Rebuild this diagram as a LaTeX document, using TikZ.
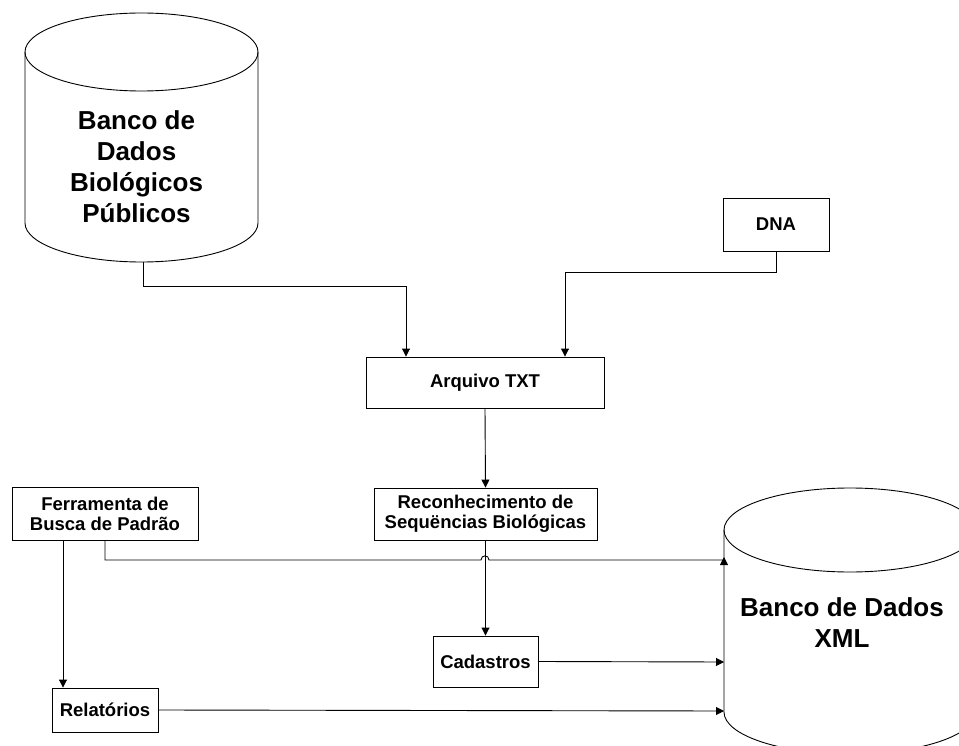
\documentclass[tikz,border=0pt]{standalone}
\usepackage{fontspec}
\setmainfont{Liberation Sans}
\usetikzlibrary{arrows.meta}
\tikzset{
  every picture/.style={x=1pt,y=-1pt},
  line/.style={draw=black,line width=0.9pt},
  arr/.style={line,-{Triangle[length=8pt,width=8pt]}},
  procbox/.style={draw=black,line width=0.9pt,fill=white,align=center,inner sep=0pt,
    font=\bfseries\fontsize{18.5}{20}\selectfont},
  bigtext/.style={align=center,inner sep=0pt,font=\bfseries\fontsize{26}{31}\selectfont},
}
\begin{document}
\begin{tikzpicture}
\useasboundingbox (0,0) rectangle (959,746);
\clip (0,0) rectangle (959,746);
\fill[white] (0,0) rectangle (959,746);

% public biological databank (cylinder)
\draw[line,fill=white] (25,52) -- (25,223) arc[start angle=180,end angle=0,x radius=116.5,y radius=39]
  -- (258,52) arc[start angle=0,end angle=-180,x radius=116.5,y radius=39] -- cycle;
\draw[line] (25,52) arc[start angle=180,end angle=0,x radius=116.5,y radius=39];
\node[bigtext] (dbpub) at (136.5,167) {Banco de\\Dados\\Biológicos\\Públicos};
\coordinate (dbpubS) at (143,262);

% XML databank (cylinder)
\draw[line,fill=white] (724,530) -- (724,712) arc[start angle=180,end angle=0,x radius=126,y radius=42]
  -- (976,530) arc[start angle=0,end angle=-180,x radius=126,y radius=42] -- cycle;
\draw[line] (724,530) arc[start angle=180,end angle=0,x radius=126,y radius=42];
\node[bigtext] (dbxml) at (842,623) {Banco de Dados\\XML};
\coordinate (xmlA) at (724,560);
\coordinate (xmlB) at (724,662);
\coordinate (xmlC) at (724,711);

% process boxes
\node[procbox,minimum width=106,minimum height=53] (dna) at (776,224.5) {DNA};
\node[procbox,minimum width=238,minimum height=51] (arq) at (485,382.5) {Arquivo TXT};
\node[procbox,minimum width=223,minimum height=52] (rec) at (485.5,514) {Reconhecimento de\\Sequëncias Biológicas};
\node[procbox,minimum width=186,minimum height=53] (ferr) at (105,513.5) {Ferramenta de\\Busca de Padrão};
\node[procbox,minimum width=105,minimum height=51] (cad) at (485.5,661.5) {Cadastros};
\node[procbox,minimum width=106,minimum height=44] (rel) at (105,710) {Relatórios};

% connectors
\draw[arr] (dbpubS) -- (143,286) -| ([xshift=-79pt]arq.north);
\draw[arr] (dna.south) -- (776,272) -| ([xshift=80pt]arq.north);
\draw[arr] (arq.south) -- (rec.north);
\draw[arr] (rec.south) -- (cad.north);
\draw[arr] ([xshift=-42pt]ferr.south) -- ([xshift=-42pt]rel.north);
\draw[arr] (ferr.south) -- (105,560) -- (481,560)
  .. controls (481,554.5) and (489,554.5) .. (489,560) -- (xmlA) -- (724,557);
\draw[arr] (cad.east) -- (xmlB);
\draw[arr] (rel.east) -- (xmlC);
\end{tikzpicture}
\end{document}
